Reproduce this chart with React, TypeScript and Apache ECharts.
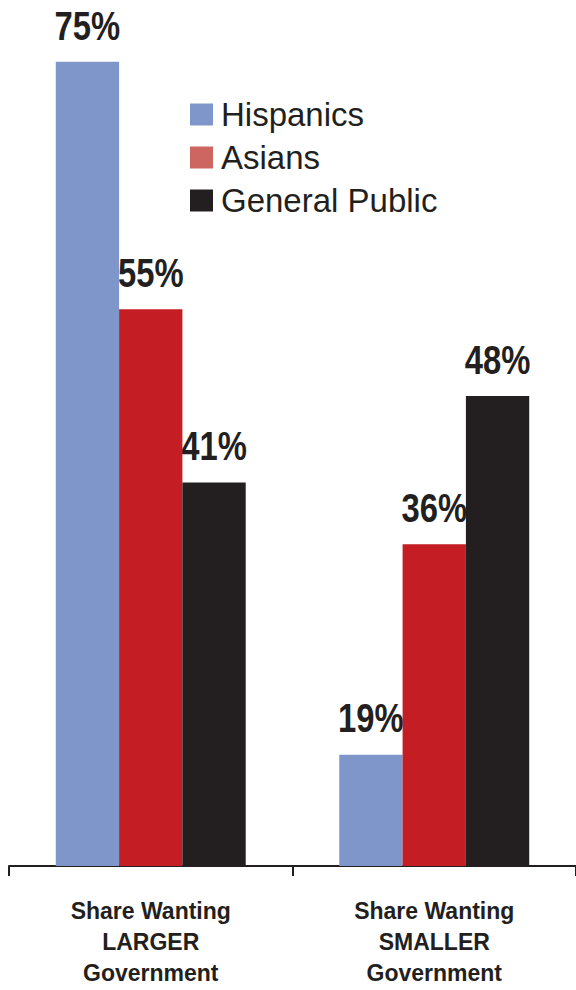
import React, { useEffect, useRef } from "react";
import * as echarts from "echarts";

const categories = ["Share Wanting\nLARGER\nGovernment", "Share Wanting\nSMALLER\nGovernment"];
const seriesNames = ["Hispanics", "Asians", "General Public"];
const hispanics = [75, 19];
const asians = [55, 36];
const generalPublic = [41, 48];
const barColors = ["#7F96CA", "#C41E24", "#231F20"];
const legendColors = ["#7F96CA", "#CD6660", "#231F20"];

const GAP = 0.33;

export default function App() {
  const ref = useRef<HTMLDivElement>(null);
  useEffect(() => {
    if (!ref.current) return;
    const chart = echarts.init(ref.current, undefined, { renderer: "svg" });
    const values = [hispanics, asians, generalPublic];
    const labelData: any[] = [];
    values.forEach((arr, s) => arr.forEach((v, c) => labelData.push([c, v, s])));
    chart.setOption({
      animation: false,
      grid: { left: 9, right: 0, top: -3, bottom: 124 },
      legend: {
        orient: "vertical",
        left: 185,
        top: 93,
        itemWidth: 23,
        itemHeight: 22,
        itemGap: 10,
        icon: "rect",
        textStyle: {
          fontFamily: "'Liberation Sans', Arial, sans-serif",
          fontSize: 33,
          color: "#231F20",
          padding: [0, 0, 0, 3],
        },
        data: seriesNames.map((n, i) => ({ name: n, itemStyle: { color: legendColors[i], borderWidth: 0 } })),
      },
      xAxis: {
        type: "category",
        data: categories,
        axisLine: { lineStyle: { color: "#231F20", width: 2 } },
        axisTick: { show: true, length: 10, lineStyle: { color: "#231F20", width: 2 } },
        axisLabel: {
          margin: 29,
          fontFamily: "'Liberation Sans', Arial, sans-serif",
          fontWeight: "bold",
          fontSize: 23,
          lineHeight: 31,
          color: "#231F20",
        },
      },
      yAxis: {
        type: "value",
        min: 10,
        max: 80,
        show: false,
        splitLine: { show: false },
      },
      series: [
        ...seriesNames.map((n, i) => ({
          name: n,
          type: "bar",
          data: values[i],
          barGap: "0%",
          barCategoryGap: GAP * 100 + "%",
          itemStyle: { color: barColors[i] },
        })),
        {
          type: "custom",
          name: "labels",
          clip: false,
          silent: true,
          data: labelData,
          encode: { x: 0, y: 1 },
          renderItem: (params: any, api: any) => {
            const c = api.value(0);
            const v = api.value(1);
            const s = api.value(2);
            const pt = api.coord([c, v]);
            const band = api.size([1, 0])[0];
            const barW = (band * (1 - GAP)) / 3;
            const x = pt[0] + (s - 1) * barW;
            return {
              type: "text",
              x,
              y: pt[1] - 16,
              scaleX: 0.82,
              style: {
                text: v + "%",
                fontFamily: "'Liberation Sans', Arial, sans-serif",
                fontWeight: "bold",
                fontSize: 40,
                fill: "#231F20",
                align: "center",
                verticalAlign: "bottom",
              },
            };
          },
        },
      ],
    });
    return () => chart.dispose();
  }, []);
  return (
    <div
      ref={ref}
      style={{ position: "absolute", left: 0, top: 0, width: 576, height: 990, background: "#fff" }}
    />
  );
}
